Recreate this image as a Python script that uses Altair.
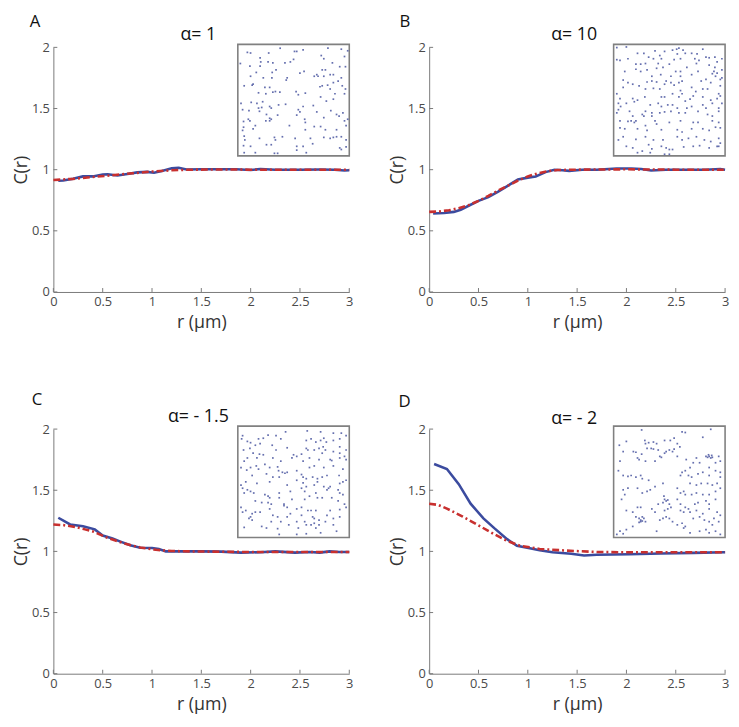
import altair as alt
import pandas as pd

W, H = 300, 248
INSET = 113
FONT = "Open Sans"
BLUE = "#3b4b9f"
RED = "#c8302f"
AXC = "#7a7a7a"

XTICKS = [0, 0.5, 1, 1.5, 2, 2.5, 3]
YTICKS = [0, 0.5, 1, 1.5, 2]

letters = ["A", "B", "C", "D"]
titles = ["α= 1", "α= 10", "α= - 1.5", "α= - 2"]

# ---- panel A ----
a_blue_r = [0.05, 0.1, 0.2, 0.3, 0.4, 0.5, 0.55, 0.65, 0.75, 0.85, 0.95, 1.02, 1.1, 1.2, 1.27, 1.35, 1.5, 1.7, 1.85, 2.0, 2.1, 2.25, 2.5, 2.7, 2.85, 2.95, 3.0]
a_blue_c = [0.91, 0.912, 0.925, 0.945, 0.945, 0.96, 0.962, 0.953, 0.965, 0.978, 0.982, 0.975, 0.99, 1.012, 1.016, 1.002, 1.003, 1.004, 1.003, 0.998, 1.005, 0.999, 1.0, 1.001, 1.0, 0.993, 0.995]
a_red_r = [0, 0.2, 0.4, 0.6, 0.8, 1.0, 1.2, 1.4, 1.7, 2.0, 2.5, 3.0]
a_red_c = [0.915, 0.925, 0.94, 0.955, 0.97, 0.985, 0.995, 1.0, 1.002, 1.0, 1.0, 1.0]

# ---- panel B ----
b_blue_r = [0.04, 0.15, 0.25, 0.32, 0.4, 0.5, 0.6, 0.7, 0.8, 0.9, 1.0, 1.08, 1.18, 1.27, 1.35, 1.42, 1.55, 1.7, 1.9, 2.05, 2.15, 2.25, 2.4, 2.6, 2.8, 2.95, 3.0]
b_blue_c = [0.642, 0.645, 0.655, 0.672, 0.705, 0.745, 0.775, 0.82, 0.87, 0.92, 0.935, 0.945, 0.98, 1.0, 0.995, 0.99, 1.0, 1.0, 1.01, 1.01, 1.005, 0.993, 1.0, 1.0, 1.0, 1.005, 1.0]
b_red_r = [0, 0.1, 0.2, 0.3, 0.4, 0.5, 0.6, 0.7, 0.8, 0.9, 1.0, 1.1, 1.2, 1.3, 1.5, 2.0, 2.5, 3.0]
b_red_c = [0.655, 0.658, 0.668, 0.685, 0.71, 0.745, 0.785, 0.83, 0.87, 0.91, 0.945, 0.97, 0.988, 0.997, 1.0, 1.003, 1.0, 1.0]

# ---- panel C ----
c_blue_r = [0.05, 0.17, 0.3, 0.42, 0.5, 0.6, 0.68, 0.78, 0.88, 1.0, 1.07, 1.14, 1.3, 1.5, 1.7, 1.9, 2.1, 2.25, 2.45, 2.6, 2.7, 2.8, 2.9, 3.0]
c_blue_c = [1.275, 1.22, 1.205, 1.18, 1.13, 1.105, 1.08, 1.05, 1.03, 1.027, 1.02, 1.0, 1.0, 1.0, 0.998, 0.99, 0.993, 1.0, 0.99, 0.995, 0.99, 1.0, 0.995, 0.995]
c_red_r = [0, 0.1, 0.22, 0.32, 0.41, 0.55, 0.71, 0.88, 1.04, 1.2, 1.4, 1.6, 2.0, 2.5, 3.0]
c_red_c = [1.22, 1.215, 1.2, 1.18, 1.16, 1.11, 1.067, 1.032, 1.013, 1.003, 1.0, 0.998, 0.995, 0.995, 0.995]

# ---- panel D ----
d_blue_r = [0.05, 0.18, 0.3, 0.42, 0.55, 0.66, 0.79, 0.89, 1.02, 1.12, 1.25, 1.44, 1.57, 1.7, 2.03, 2.35, 2.68, 3.0]
d_blue_c = [1.714, 1.674, 1.55, 1.39, 1.27, 1.19, 1.1, 1.046, 1.025, 1.01, 0.993, 0.98, 0.967, 0.972, 0.977, 0.983, 0.988, 0.993]
d_red_r = [0, 0.09, 0.18, 0.34, 0.5, 0.66, 0.79, 0.92, 1.12, 1.38, 1.7, 2.0, 2.5, 3.0]
d_red_c = [1.39, 1.38, 1.35, 1.285, 1.213, 1.14, 1.086, 1.046, 1.02, 1.007, 0.995, 0.993, 0.993, 0.993]

# ---- inset point patterns (x, y in 0..350, y from top) ----
a_pts = [(30,25),(40,27),(70,42),(97,27),(133,12),(178,22),(185,22),(205,17),(283,12),(325,15),(345,20),(175,47),(165,55),(148,58),(72,55),(70,68),(95,55),(110,58),(120,80),(335,38),(262,35),(270,45),(297,58),(320,70),(338,70),(8,60),(38,68),
(58,88),(108,88),(80,105),(107,105),(155,105),(152,112),(195,90),(208,85),(240,100),(248,95),(252,100),(265,80),(275,80),(290,95),(300,95),(325,105),(315,115),(300,120),(328,130),(270,100),(40,100),(45,128),(20,130),(48,125),
(85,135),(100,135),(118,148),(132,150),(110,150),(88,155),(65,152),(183,148),(190,158),(212,153),(258,133),(265,130),(282,128),(290,140),(305,155),(278,178),(300,172),(335,155),(338,140),(260,165),
(10,185),(42,182),(60,185),(78,180),(75,198),(65,200),(100,195),(105,200),(128,190),(150,188),(15,205),(35,208),(68,210),(90,220),(100,232),(125,222),(190,205),(195,212),(185,222),(205,195),(237,192),(248,212),(270,230),(292,208),(310,220),(330,215),(318,225),(345,235),(335,240),
(33,235),(38,240),(18,242),(55,255),(88,240),(100,240),(105,235),(162,255),(210,235),(212,245),(240,258),(18,260),(15,270),(48,265),(212,268),(260,258),(275,268),(310,268),(340,255),
(20,288),(22,300),(68,295),(115,292),(140,290),(118,300),(180,295),(228,295),(270,292),(290,295),(300,292),(310,290),(325,290),(340,300),(18,318),(40,320),(90,315),(105,315),(185,320),(205,320),(235,312),(320,325),(325,330),(340,322),(185,332),(115,342),(125,342),(55,340),(20,340),(215,340)]

b_pts = [(10,10),(40,8),(130,20),(160,22),(185,18),(198,15),(205,12),(218,18),(225,28),(245,28),(262,30),(280,15),(10,48),(20,50),(45,45),(75,28),(95,28),(110,40),(125,45),(145,35),(150,45),(200,30),(190,48),(210,45),(255,45),(268,50),(290,40),(300,42),(318,40),(325,55),(340,45),
(70,62),(85,62),(100,60),(140,60),(155,72),(135,75),(175,62),(230,72),(260,60),(300,65),(318,72),(70,78),(85,85),(105,80),(195,85),(210,85),(210,100),(265,85),(315,85),(310,92),(320,100),(325,90),(340,80),(35,85),
(120,100),(148,95),(180,100),(30,112),(45,120),(60,125),(105,118),(120,115),(135,118),(165,115),(180,120),(205,120),(215,115),(245,95),(275,115),(290,110),(335,110),(340,105),(335,130),(305,120),(10,155),
(30,135),(80,130),(100,140),(125,138),(145,140),(160,125),(190,128),(210,145),(215,155),(245,135),(258,148),(280,140),(295,140),(330,155),(335,162),(325,170),(250,162),(240,172),(20,170),(60,170),(75,175),(98,165),(150,165),(160,165),(185,155),(205,165),(225,178),(280,165),(305,175),
(15,185),(22,195),(15,205),(40,185),(65,180),(115,190),(140,185),(150,195),(170,190),(185,190),(200,200),(230,200),(245,195),(280,190),(290,200),(310,185),(330,200),(340,185),(330,210),(10,215),(50,210),(60,225),(100,210),(120,215),(145,215),(160,212),(180,210),(205,215),(225,215),(265,210),(295,220),(310,225),
(20,240),(45,242),(55,240),(65,245),(70,240),(90,220),(95,225),(120,225),(100,255),(130,240),(135,250),(175,245),(210,240),(250,245),(265,245),(310,240),(330,245),(320,260),(335,262),(20,262),(35,265),(75,265),(105,270),(150,268),(200,268),(215,275),(245,265),(280,265),(300,270),
(30,290),(15,300),(70,298),(100,290),(125,300),(155,300),(200,290),(215,300),(235,295),(260,290),(285,300),(305,305),(330,295),(335,310),(325,320),(40,320),(60,325),(110,315),(120,328),(150,320),(165,325),(175,330),(185,330),(220,322),(250,320),(270,318),(300,325),(330,320),(75,340),(90,335),(115,340),(160,345),(175,345)]

c_pts = [(15,30),(65,40),(80,38),(95,28),(120,30),(150,18),(218,15),(260,18),(300,22),(325,22),(340,30),(30,48),(40,52),(55,60),(70,55),(108,60),(135,40),(215,45),(230,40),(245,50),(260,45),(270,38),(278,50),(300,45),(320,40),(12,40),
(38,70),(18,75),(48,85),(68,88),(80,90),(120,75),(155,68),(175,90),(185,95),(200,88),(215,70),(220,75),(240,75),(255,70),(268,65),(275,75),(265,85),(320,65),(340,75),(320,85),(300,80),(335,95),
(30,100),(60,100),(110,100),(135,110),(170,100),(205,110),(225,100),(255,105),(290,105),(295,108),(320,100),(340,105),(20,110),(10,130),(28,138),(40,130),(58,125),(65,135),(85,120),(100,130),(125,128),(128,140),(140,145),(148,148),(155,145),(185,140),(225,130),(240,125),(270,130),(300,125),(330,135),
(45,155),(90,150),(110,160),(130,160),(200,152),(205,160),(215,165),(235,160),(250,165),(265,160),(250,175),(280,155),(318,155),(340,170),(25,175),(60,180),(100,175),(155,185),(185,170),(205,178),(215,190),(240,185),(270,190),(290,190),(320,180),(330,175),(15,195),(30,200),(40,205),(50,210),(85,215),(95,220),(100,225),(130,210),(165,205),(200,195),(210,205),(245,210),(280,200),(285,195),(315,200),(320,210),(330,215),(20,210),(10,185),
(55,235),(75,240),(95,240),(105,245),(130,225),(145,245),(170,230),(210,230),(225,220),(250,225),(265,225),(295,225),(315,235),(335,245),(10,255),(25,265),(45,275),(55,270),(70,270),(100,260),(145,250),(155,255),(185,260),(200,255),(220,265),(230,265),(245,265),(290,265),(320,262),(340,255),(15,270),
(40,285),(45,295),(35,290),(110,280),(125,285),(155,285),(165,275),(200,280),(235,285),(240,290),(255,295),(280,280),(300,290),(320,285),(20,318),(75,315),(90,320),(105,300),(135,300),(160,310),(185,300),(190,320),(210,300),(215,310),(230,310),(240,305),(255,310),(275,300),(300,310),(310,330),(245,320),(125,322),(130,340),(185,340),(215,338),(260,335)]

d_pts = [(88,12),(215,18),(225,20),(280,35),(305,10),(40,48),(98,45),(100,55),(110,52),(125,50),(135,55),(160,45),(178,45),(190,38),(200,55),(208,65),(18,60),(30,80),(62,80),(70,82),(75,100),(80,105),(88,88),(105,70),(118,70),(125,72),(140,75),(145,95),(150,98),(160,85),(165,80),(175,75),(185,80),(190,72),(200,95),(130,110),(100,110),(20,110),(15,140),
(290,95),(295,98),(300,95),(305,100),(308,92),(298,90),(310,98),(260,100),(250,115),(270,115),(300,130),(320,115),(335,110),(330,95),(228,105),(240,130),(225,140),(215,145),(210,155),(235,155),(245,160),(265,150),(280,145),(300,155),(320,140),(335,145),(335,160),
(30,155),(45,158),(55,155),(70,160),(85,155),(90,165),(110,170),(155,180),(130,190),(115,200),(105,205),(90,210),(75,195),(45,195),(30,200),(35,215),(25,230),(240,180),(260,185),(275,180),(295,180),(310,185),(325,180),(200,195),(210,210),(220,205),(225,215),(245,215),(260,210),(280,215),(300,215),(320,205),(335,195),
(158,220),(160,230),(165,235),(170,232),(155,240),(175,245),(140,245),(200,230),(210,245),(225,255),(235,260),(255,245),(265,240),(290,235),(300,245),(320,230),(40,265),(60,270),(75,255),(85,255),(120,260),(130,270),(160,265),(170,260),(180,255),(210,265),(220,270),(240,270),(260,265),(280,275),(300,260),(325,270),(335,280),
(70,285),(80,290),(85,295),(90,298),(95,290),(90,285),(85,300),(80,302),(100,300),(145,295),(155,290),(165,285),(175,290),(185,300),(200,310),(215,305),(225,315),(250,290),(270,285),(285,295),(300,300),(315,290),(330,300),(60,315),(40,325),(20,330),(10,340),(30,338),(135,330),(220,320),(240,335),(270,330),(290,325),(300,335),(320,330),(335,340),(310,310)]

# layout-only offsets (pixels relative to each plot area)
letter_dx = [-24, -30, -22, -31]
letter_dy = [-21, -21, -24, -22]
title_dy = [-7, -7, -7, -5]

xscale = alt.Scale(domain=[0, 3], nice=False, zero=False)
yscale = alt.Scale(domain=[0, 2], nice=False, zero=False)
xaxis = alt.Axis(values=XTICKS, title="r (μm)", format="~g", labelFlush=False, labelOverlap=False)
yaxis = alt.Axis(values=YTICKS, title="C(r)", format="~g", labelFlush=False, labelOverlap=False,
                 titlePadding=1)


def panel(i, br, bc, rr, rc, pts):
    X = alt.X("r:Q", scale=xscale, axis=xaxis)
    Y = alt.Y("C:Q", scale=yscale, axis=yaxis)
    blue = alt.Chart(pd.DataFrame({"r": br, "C": bc})).mark_line(
        color=BLUE, strokeWidth=2.6).encode(x=X, y=Y)
    red = alt.Chart(pd.DataFrame({"r": rr, "C": rc})).mark_line(
        color=RED, strokeWidth=2.6, strokeDash=[7, 3, 2, 3]).encode(x=X, y=Y)
    xt = alt.Chart(pd.DataFrame({"r": XTICKS})).mark_rule(color=AXC, strokeWidth=1).encode(
        x=X, y=alt.value(H), y2=alt.value(H - 4))
    yt = alt.Chart(pd.DataFrame({"C": YTICKS})).mark_rule(color=AXC, strokeWidth=1).encode(
        y=Y, x=alt.value(0), x2=alt.value(4))
    main = alt.layer(xt, yt, blue, red)

    frame = alt.Chart(pd.DataFrame({"k": [0]})).mark_rect(
        fill="white", stroke="#808080", strokeWidth=1.6).encode(
        x=alt.value(W - INSET), x2=alt.value(W), y=alt.value(-3), y2=alt.value(INSET - 3))
    dots = alt.Chart(pd.DataFrame({"px": [p[0] for p in pts], "py": [p[1] for p in pts]})).mark_square(
        size=3, color="#4a56a0", opacity=0.85).encode(
        x=alt.X("px:Q", scale=alt.Scale(domain=[0, 350], range=[W - INSET, W]), axis=None),
        y=alt.Y("py:Q", scale=alt.Scale(domain=[0, 350], range=[-3, INSET - 3]), axis=None))
    inset = alt.layer(frame, dots)

    let = alt.Chart(pd.DataFrame({"t": [letters[i]]})).mark_text(
        align="left", baseline="alphabetic", fontSize=17, font=FONT, color="#111").encode(
        text="t:N", x=alt.value(letter_dx[i]), y=alt.value(letter_dy[i]))
    tit = alt.Chart(pd.DataFrame({"t": [titles[i]]})).mark_text(
        align="center", baseline="alphabetic", fontSize=18, font=FONT, color="#111").encode(
        text="t:N", x=alt.value(W / 2 - 3), y=alt.value(title_dy[i]))

    return alt.layer(main, inset, let, tit).resolve_scale(
        x="independent", y="independent").properties(width=W, height=H)


pA = panel(0, a_blue_r, a_blue_c, a_red_r, a_red_c, a_pts)
pB = panel(1, b_blue_r, b_blue_c, b_red_r, b_red_c, b_pts)
pC = panel(2, c_blue_r, c_blue_c, c_red_r, c_red_c, c_pts)
pD = panel(3, d_blue_r, d_blue_c, d_red_r, d_red_c, d_pts)

chart = alt.concat(pA, pB, pC, pD, columns=2, spacing={"row": 139, "column": 81},
                   bounds="flush").properties(
    padding={"left": 4, "top": 0, "right": 0, "bottom": 0}
).configure_view(stroke=None).configure_axis(
    grid=False, ticks=False, domainColor=AXC, domainWidth=1,
    labelFont=FONT, labelFontSize=13, labelColor="#4a4a4a", labelPadding=4,
    titleFont=FONT, titleFontSize=18, titleFontWeight="normal", titleColor="#333333",
    titlePadding=5
)

chart.save("out.html", embed_options={"renderer": "svg", "actions": False})
